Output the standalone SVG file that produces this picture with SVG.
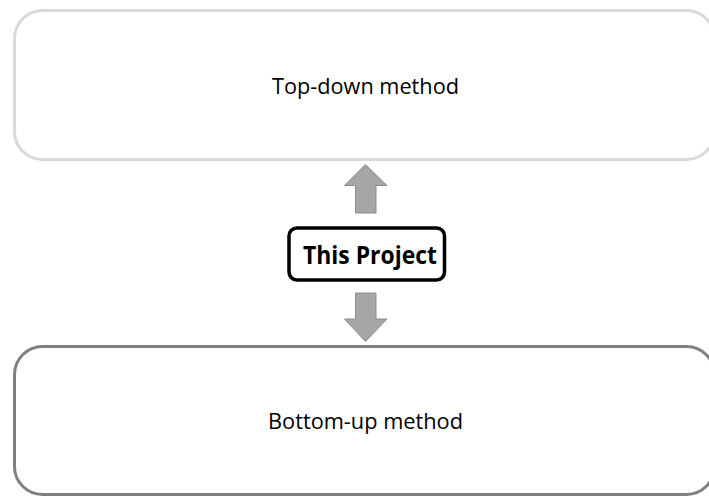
<svg xmlns="http://www.w3.org/2000/svg" width="709" height="497" viewBox="0 0 709 497">
  <style>
    .method { fill: #ffffff; stroke-width: 3; }
    .label { font-family: "Open Sans", "Liberation Sans", sans-serif; font-size: 21px; fill: #000000; text-anchor: middle; }
    .title { font-family: "Open Sans", "Liberation Sans", sans-serif; font-size: 24.5px; font-weight: bold; fill: #000000; text-anchor: middle; }
    .arrow { fill: #a6a6a6; stroke: #8c8c8c; stroke-width: 1; }
  </style>
  <rect width="709" height="497" fill="#ffffff"/>

  <g id="top-down">
    <rect class="method" x="14.5" y="10.5" width="700" height="149" rx="28" stroke="#d9d9d9"/>
    <text class="label" x="365.5" y="94" textLength="187" lengthAdjust="spacingAndGlyphs">Top-down method</text>
  </g>

  <g id="bottom-up">
    <rect class="method" x="14.5" y="346.5" width="700" height="148" rx="28" stroke="#808080"/>
    <text class="label" x="365.5" y="429" textLength="195" lengthAdjust="spacingAndGlyphs">Bottom-up method</text>
  </g>

  <g id="this-project">
    <rect x="289" y="228" width="155.5" height="52" rx="8" fill="#ffffff" stroke="#000000" stroke-width="3.5"/>
    <text class="title" x="370" y="264" textLength="134" lengthAdjust="spacingAndGlyphs">This Project</text>
  </g>

  <g id="connectors">
    <!-- up arrow towards the top-down box -->
    <polygon class="arrow" points="365.5,164.5 387,185.5 376,185.5 376,213 355.5,213 355.5,185.5 344.5,185.5"/>
    <!-- down arrow towards the bottom-up box -->
    <polygon class="arrow" points="355.5,293 376,293 376,319 387,319 365.5,341.5 344.5,319 355.5,319"/>
  </g>
</svg>
